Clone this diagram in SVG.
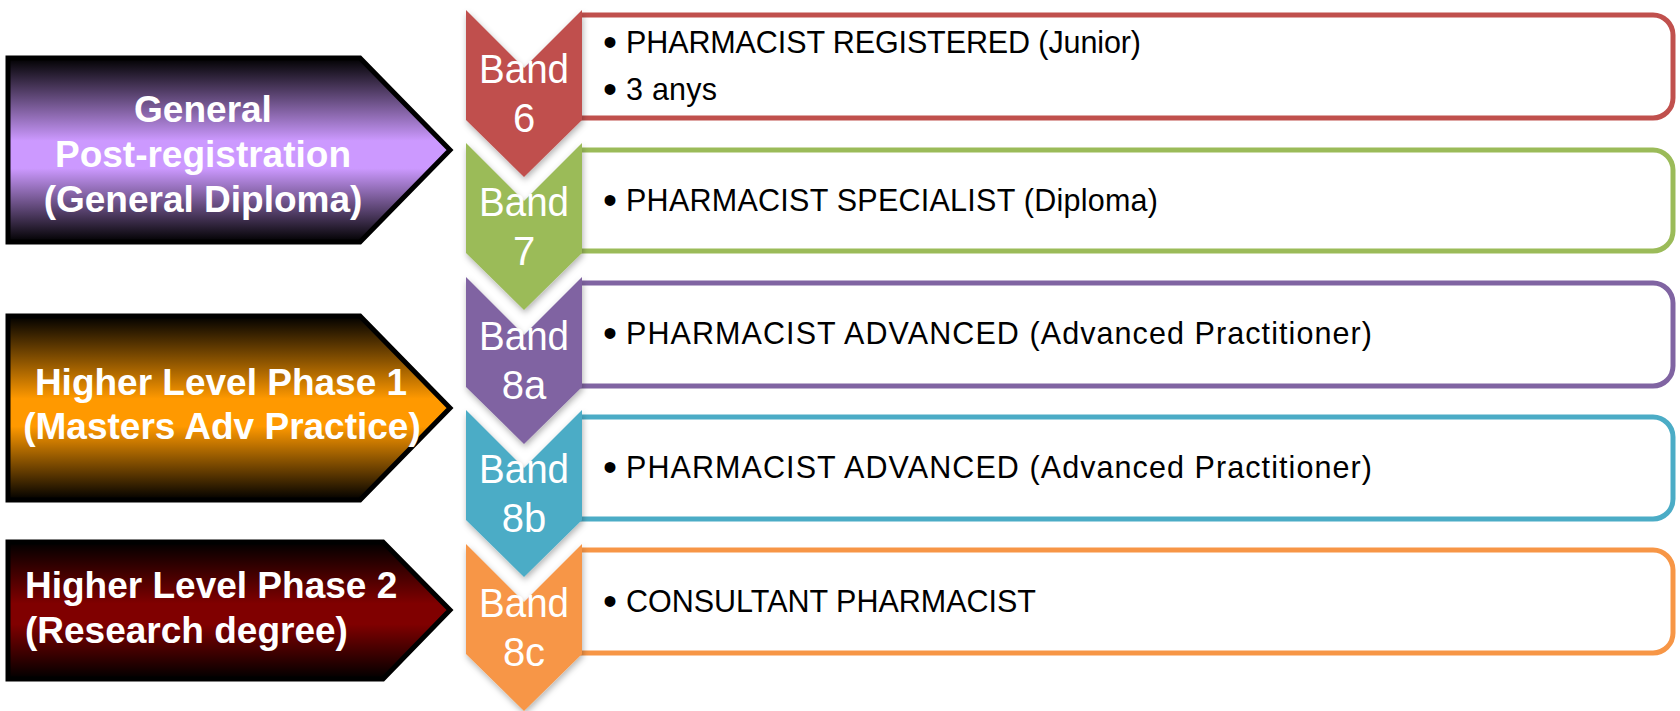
<svg xmlns="http://www.w3.org/2000/svg" width="1680" height="711" viewBox="0 0 1680 711">
<style>
.box{fill:#fff;stroke-width:5;}
.chev{filter:url(#sh);}
.band{font-family:"Liberation Sans",Arial,sans-serif;font-size:40px;fill:#fff;text-anchor:middle;}
.body{font-family:"Liberation Sans",Arial,sans-serif;font-size:30.5px;fill:#000;}
.bul{font-family:"Liberation Sans",Arial,sans-serif;font-size:40px;fill:#000;text-anchor:middle;}
.arrow{stroke:#000;stroke-width:5;stroke-linejoin:miter;}
.lbl{font-family:"Liberation Sans",Arial,sans-serif;font-weight:bold;font-size:37px;fill:#fff;}
</style>
<defs>
<filter id="sh" x="-20%" y="-20%" width="140%" height="140%">
<feDropShadow dx="1" dy="3" stdDeviation="3" flood-color="#000" flood-opacity="0.3"/>
</filter>
<linearGradient id="gP" x1="0" y1="0" x2="0" y2="1">
<stop offset="0" stop-color="#000"/><stop offset="0.45" stop-color="#CC99FF"/><stop offset="0.6" stop-color="#CC99FF"/><stop offset="1" stop-color="#000"/>
</linearGradient>
<linearGradient id="gO" x1="0" y1="0" x2="0" y2="1">
<stop offset="0" stop-color="#000"/><stop offset="0.45" stop-color="#FF9900"/><stop offset="0.6" stop-color="#FF9900"/><stop offset="1" stop-color="#000"/>
</linearGradient>
<linearGradient id="gR" x1="0" y1="0" x2="0" y2="1">
<stop offset="0" stop-color="#000"/><stop offset="0.45" stop-color="#800000"/><stop offset="0.6" stop-color="#800000"/><stop offset="1" stop-color="#000"/>
</linearGradient>
</defs>
<rect width="1680" height="711" fill="#fff"/>

<g id="phase-general">
<polygon class="arrow" fill="url(#gP)" points="8,58 360,58 450,150 360,242 8,242"/>
<text class="lbl" text-anchor="middle" x="203" y="122">General</text>
<text class="lbl" text-anchor="middle" x="203" y="167">Post-registration</text>
<text class="lbl" text-anchor="middle" x="203" y="212">(General Diploma)</text>
</g>
<g id="phase-1">
<polygon class="arrow" fill="url(#gO)" points="8,316 360,316 450,408 360,500 8,500"/>
<text class="lbl" text-anchor="middle" x="221" y="395">Higher Level Phase 1</text>
<text class="lbl" text-anchor="middle" x="222" y="439">(Masters Adv Practice)</text>
</g>
<g id="phase-2">
<polygon class="arrow" fill="url(#gR)" points="8,542 383,542 450,610 383,679 8,679"/>
<text class="lbl" x="25" y="598">Higher Level Phase 2</text>
<text class="lbl" x="25" y="643">(Research degree)</text>
</g>

<g id="connectors"/>

<g id="band-6">
<path class="box" stroke="#C0504D" d="M580,15 H1653 a20,20 0 0 1 20,20 V98 a20,20 0 0 1 -20,20 H580"/>
<polygon class="chev" fill="#C0504D" points="466,10 524,68 582,10 582,120 524,177 466,120"/>
<text class="band" x="524" y="83" textLength="90" lengthAdjust="spacingAndGlyphs">Band</text>
<text class="band" x="524" y="132">6</text>
<text class="bul" x="610" y="56">•</text>
<text class="body" x="626" y="53" textLength="515">PHARMACIST REGISTERED (Junior)</text>
<text class="bul" x="610" y="103">•</text>
<text class="body" x="626" y="100" textLength="91">3 anys</text>
</g>
<g id="band-7">
<path class="box" stroke="#9BBB59" d="M580,150 H1653 a20,20 0 0 1 20,20 V231 a20,20 0 0 1 -20,20 H580"/>
<polygon class="chev" fill="#9BBB59" points="466,143 524,201 582,143 582,253 524,310 466,253"/>
<text class="band" x="524" y="216" textLength="90" lengthAdjust="spacingAndGlyphs">Band</text>
<text class="band" x="524" y="265">7</text>
<text class="bul" x="610" y="214">•</text>
<text class="body" x="626" y="211" textLength="532">PHARMACIST SPECIALIST (Diploma)</text>
</g>
<g id="band-8a">
<path class="box" stroke="#8064A2" d="M580,283 H1653 a20,20 0 0 1 20,20 V366 a20,20 0 0 1 -20,20 H580"/>
<polygon class="chev" fill="#8064A2" points="466,277 524,335 582,277 582,387 524,444 466,387"/>
<text class="band" x="524" y="350" textLength="90" lengthAdjust="spacingAndGlyphs">Band</text>
<text class="band" x="524" y="399">8a</text>
<text class="bul" x="610" y="347">•</text>
<text class="body" x="626" y="344" textLength="746">PHARMACIST ADVANCED (Advanced Practitioner)</text>
</g>
<g id="band-8b">
<path class="box" stroke="#4BACC6" d="M580,417 H1653 a20,20 0 0 1 20,20 V499 a20,20 0 0 1 -20,20 H580"/>
<polygon class="chev" fill="#4BACC6" points="466,410 524,468 582,410 582,520 524,577 466,520"/>
<text class="band" x="524" y="483" textLength="90" lengthAdjust="spacingAndGlyphs">Band</text>
<text class="band" x="524" y="532">8b</text>
<text class="bul" x="610" y="481">•</text>
<text class="body" x="626" y="478" textLength="746">PHARMACIST ADVANCED (Advanced Practitioner)</text>
</g>
<g id="band-8c">
<path class="box" stroke="#F79646" d="M580,550 H1653 a20,20 0 0 1 20,20 V633 a20,20 0 0 1 -20,20 H580"/>
<polygon class="chev" fill="#F79646" points="466,544 524,602 582,544 582,654 524,711 466,654"/>
<text class="band" x="524" y="617" textLength="90" lengthAdjust="spacingAndGlyphs">Band</text>
<text class="band" x="524" y="666">8c</text>
<text class="bul" x="610" y="615">•</text>
<text class="body" x="626" y="612" textLength="410">CONSULTANT PHARMACIST</text>
</g>
</svg>
